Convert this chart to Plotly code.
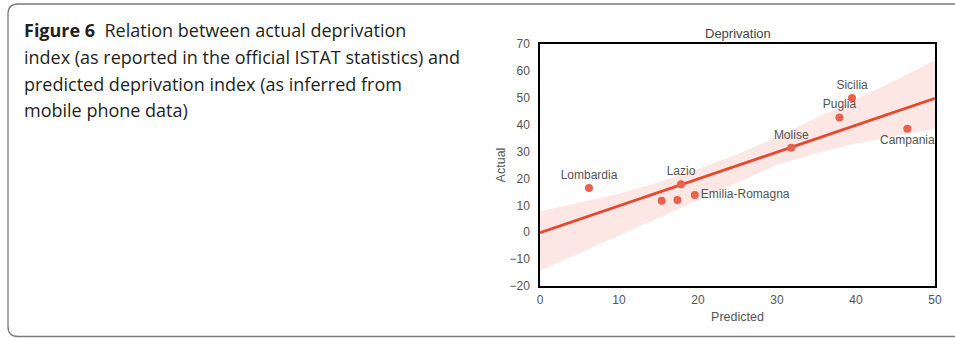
import plotly.graph_objects as go

# Data
regions = ["Lombardia", "", "", "Lazio", "Emilia-Romagna", "Molise", "Puglia", "Sicilia", "Campania"]
predicted = [6.2, 15.4, 17.4, 17.85, 19.6, 31.8, 37.9, 39.5, 46.5]
actual = [16.4, 11.7, 12.0, 17.8, 13.8, 31.4, 42.7, 49.9, 38.5]
label_pos = ["top center", "top center", "top center", "top center", "middle right",
             "top center", "top center", "top center", "bottom center"]

fit_x = [0, 50]
fit_y = [-0.2, 49.8]

band_x = [0, 5, 10, 15, 20, 25, 30, 35, 40, 45, 50]
band_upper = [7.8, 11.0, 14.3, 18.5, 23.5, 29.0, 35.5, 42.5, 49.5, 56.5, 64.0]
band_lower = [-14.3, -7.5, -1.0, 5.5, 12.0, 18.5, 25.0, 29.5, 33.0, 35.8, 38.5]

caption_lines = [
    "<b>Figure 6</b>  Relation between actual deprivation",
    "index (as reported in the official ISTAT statistics) and",
    "predicted deprivation index (as inferred from",
    "mobile phone data)",
]

W, H = 955, 338
L, R, T, B = 540, 935, 44, 286

fig = go.Figure()
fig.add_trace(go.Scatter(
    x=band_x + band_x[::-1], y=band_upper + band_lower[::-1],
    fill="toself", fillcolor="rgba(240,110,100,0.17)", line=dict(width=0),
    mode="lines", hoverinfo="skip", showlegend=False))
fig.add_trace(go.Scatter(
    x=fit_x, y=fit_y, mode="lines",
    line=dict(color="#e8472e", width=2.8), showlegend=False))
fig.add_trace(go.Scatter(
    x=predicted, y=actual, mode="markers+text", text=regions,
    textposition=label_pos,
    textfont=dict(family="Liberation Sans, Arial", size=12, color="#555555"),
    marker=dict(color="#e8624f", size=8), showlegend=False, cliponaxis=False))

def px2paper_x(px):
    return (px - L) / (R - L)

def px2paper_y(py):
    return (B - py) / (B - T)

annotations = []
ys = [30, 57, 84, 110]
for line, py in zip(caption_lines, ys):
    annotations.append(dict(
        text=line, xref="paper", yref="paper",
        x=px2paper_x(22), y=px2paper_y(py), xanchor="left", yanchor="middle",
        showarrow=False,
        font=dict(family="Open Sans, Noto Sans", size=18, color="#231f20")))
annotations.append(dict(
    text="Deprivation", xref="paper", yref="paper",
    x=0.5, y=px2paper_y(33), xanchor="center", yanchor="middle", showarrow=False,
    font=dict(family="Liberation Sans, Arial", size=13, color="#444444")))

# card outline (rounded rectangle)
x0, x1 = px2paper_x(8), px2paper_x(970)
y0, y1 = px2paper_y(336.5), px2paper_y(4)
rx = 10 / (R - L)
ry = 10 / (B - T)
path = (f"M {x0+rx},{y1} L {x1},{y1} M {x0+rx},{y0} L {x1},{y0} "
        f"M {x0+rx},{y1} Q {x0},{y1} {x0},{y1-ry} L {x0},{y0+ry} Q {x0},{y0} {x0+rx},{y0}")

tickfont = dict(family="Liberation Sans, Arial", size=12, color="#555555")
titlefont = dict(family="Liberation Sans, Arial", size=12.5, color="#555555")

fig.update_layout(
    width=W, height=H,
    margin=dict(l=L, r=W - R, t=T, b=H - B),
    paper_bgcolor="white", plot_bgcolor="white",
    annotations=annotations,
    shapes=[dict(type="path", xref="paper", yref="paper", path=path,
                 line=dict(color="#7a7a7a", width=1.3))],
    xaxis=dict(range=[0, 50], dtick=10, showgrid=False, zeroline=False,
               showline=True, mirror=True, linecolor="black", linewidth=1.5,
               ticks="outside", ticklen=2, tickcolor="rgba(0,0,0,0)",
               tickfont=tickfont,
               title=dict(text="Predicted", standoff=6, font=titlefont)),
    yaxis=dict(range=[-20, 70], dtick=10, showgrid=False, zeroline=False,
               showline=True, mirror=True, linecolor="black", linewidth=1.5,
               ticks="outside", ticklen=6, tickcolor="rgba(0,0,0,0)",
               tickfont=tickfont,
               title=dict(text="Actual", standoff=1, font=titlefont)),
)

fig.write_html("out.html", post_script="document.body.style.margin='0';",
               config={"displayModeBar": False})
